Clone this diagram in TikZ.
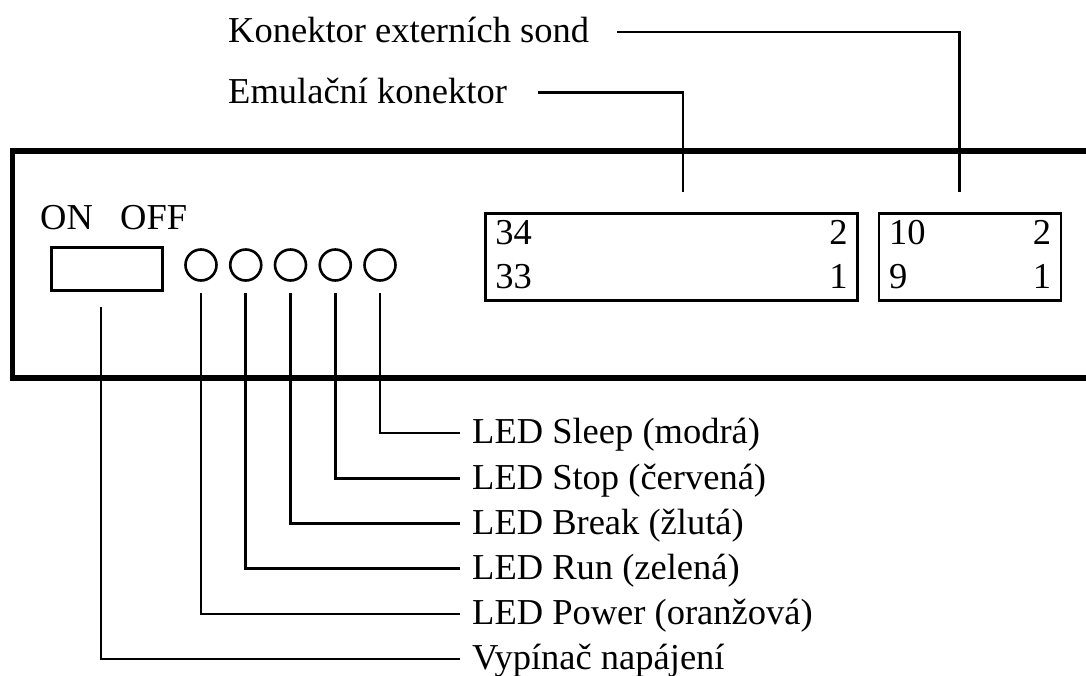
\documentclass[tikz,border=0pt]{standalone}
\usepackage{fontspec}
\setmainfont{Liberation Serif}
\usetikzlibrary{positioning}

\begin{document}
\begin{tikzpicture}[
    x=1pt,y=-1pt,
    node distance=15.6pt,
    txt/.style={font=\fontsize{36.5}{44}\selectfont,inner xsep=12pt,inner ysep=0pt,text height=25.5pt,text depth=3.7pt},
    caption/.style={txt,anchor=west},
    pinnum/.style={font=\fontsize{36.5}{44}\selectfont,inner sep=0pt},
    panel/.style={line width=5.5pt},
    socket/.style={rectangle,draw,line width=2.6pt,minimum height=87pt,inner sep=0pt},
    switchbox/.style={rectangle,draw,line width=2.6pt,minimum width=111pt,minimum height=43pt,inner sep=0pt},
    led/.style={circle,draw,line width=2.6pt,minimum size=31pt,inner sep=0pt},
    lead/.style={line width=2.6pt}
]
    \useasboundingbox (0,0) rectangle (1086,675);
    \draw[panel] (1090,151) -- (12.5,151) -- (12.5,378) -- (1090,378);

    \node[txt,anchor=base west,inner xsep=0pt] (on) at (40,229) {ON};
    \node[txt,anchor=base west,inner xsep=0pt] (off) at (120,229) {OFF};
    \node[switchbox] (sw) at (107,269) {};
    \foreach \i in {1,...,5}
        \node[led] (led\i) at ({201+44.75*(\i-1)},265) {};

    \node[socket,minimum width=372pt] (emu) at (671.5,257) {};
    \node[socket,minimum width=182pt,right=19pt of emu] (ext) {};
    \node[pinnum,anchor=base west] (emu34) at ([shift={(11pt,-32.5pt)}]emu.north west) {34};
    \node[pinnum,anchor=base east] (emu2) at ([shift={(-11pt,-32.5pt)}]emu.north east) {2};
    \node[pinnum,anchor=base west] (emu33) at ([shift={(11pt,-76.5pt)}]emu.north west) {33};
    \node[pinnum,anchor=base east] (emu1) at ([shift={(-11pt,-76.5pt)}]emu.north east) {1};
    \node[pinnum,anchor=base west] (ext10) at ([shift={(11pt,-32.5pt)}]ext.north west) {10};
    \node[pinnum,anchor=base east] (ext2) at ([shift={(-11pt,-32.5pt)}]ext.north east) {2};
    \node[pinnum,anchor=base west] (ext9) at ([shift={(11pt,-76.5pt)}]ext.north west) {9};
    \node[pinnum,anchor=base east] (ext1) at ([shift={(-11pt,-76.5pt)}]ext.north east) {1};

    \node[caption] (extlbl) at (216,32) {Konektor externích sond};
    \node[caption,below=30.8pt of extlbl.south west,anchor=north west] (emulbl) {Emulační konektor};

    \node[caption] (sleep) at (460,433) {LED Sleep (modrá)};
    \node[caption,below=of sleep.south west,anchor=north west] (stop) {LED Stop (červená)};
    \node[caption,below=of stop.south west,anchor=north west] (brk) {LED Break (žlutá)};
    \node[caption,below=of brk.south west,anchor=north west] (run) {LED Run (zelená)};
    \node[caption,below=of run.south west,anchor=north west] (power) {LED Power (oranžová)};
    \node[caption,below=of power.south west,anchor=north west] (vyp) {Vypínač napájení};

    \draw[lead,shorten <=16pt,shorten >=20pt] (extlbl.east) -| ([xshift=-10.5pt]ext.north);
    \draw[lead,shorten <=19pt,shorten >=20pt] (emulbl.east) -| ([xshift=11.5pt]emu.north);
    \draw[lead,shorten <=11pt] (led5) |- (sleep);
    \draw[lead,shorten <=11pt] (led4) |- (stop);
    \draw[lead,shorten <=11pt] (led3) |- (brk);
    \draw[lead,shorten <=11pt] (led2) |- (run);
    \draw[lead,shorten <=11pt] (led1) |- (power);
    \draw[lead,shorten <=15pt] ([xshift=-6pt]sw.south) |- (vyp);
\end{tikzpicture}
\end{document}
